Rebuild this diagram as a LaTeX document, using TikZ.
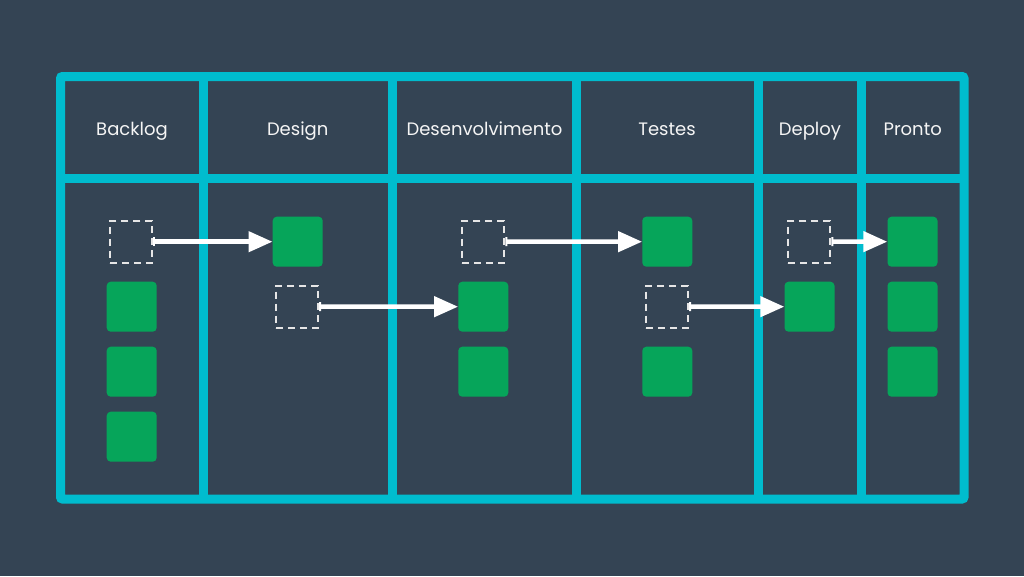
\documentclass[tikz,border=0pt]{standalone}
\usepackage{fontspec}
\setmainfont{Poppins}
\usetikzlibrary{arrows.meta}
\definecolor{bgc}{RGB}{52,68,84}
\definecolor{framec}{RGB}{0,188,206}
\definecolor{cardc}{RGB}{6,165,90}
\definecolor{txtc}{RGB}{245,245,245}
\definecolor{dashc}{RGB}{230,230,230}
\tikzset{
  frame/.style={draw=framec, line width=9pt},
  header/.style={text=txtc, font=\fontsize{18}{20}\selectfont, inner sep=0pt, anchor=base},
  card/.style={fill=cardc, rounded corners=4pt, minimum size=50pt, inner sep=0pt},
  ghost/.style={draw=dashc, line width=2pt, dash pattern=on 7pt off 5pt, minimum size=42pt, inner sep=0pt},
  move/.style={draw=white, line width=4.5pt, {Bar[width=9pt,line width=2pt]}-{Triangle[length=24pt,width=20pt]}}
}
\begin{document}
\begin{tikzpicture}[x=1pt,y=-1pt]
\fill[bgc] (0,0) rectangle (1024,576);
\useasboundingbox (0,0) rectangle (1024,576);
% frame
\draw[frame, rounded corners=2pt] (60.5,76.5) rectangle (964,499);
\draw[frame] (60.5,178.5) -- (964,178.5);
\foreach \x in {203,392.5,576,758.5,861.5}
  \draw[frame] (\x,76.5) -- (\x,499);
% headers
\node[header] (h1) at (132,135.5) {Backlog};
\node[header] (h2) at (297.7,135.5) {Design};
\node[header] (h3) at (484.5,135.5) {Desenvolvimento};
\node[header] (h4) at (667,135.5) {Testes};
\node[header] (h5) at (810,135.5) {Deploy};
\node[header] (h6) at (912.7,135.5) {Pronto};
% backlog
\node[ghost] (g1) at (131.3,241.7) {};
\node[card] (b1) at (131.7,306.7) {};
\node[card] (b2) at (131.7,371.7) {};
\node[card] (b3) at (131.7,436.7) {};
% design
\node[card] (d1) at (297.7,241.7) {};
\node[ghost] (g2) at (297.2,306.5) {};
% desenvolvimento
\node[ghost] (g3) at (483.3,241.5) {};
\node[card] (v1) at (483.3,306.7) {};
\node[card] (v2) at (483.3,371.7) {};
% testes
\node[card] (t1) at (667.3,241.7) {};
\node[ghost] (g4) at (667,306.5) {};
\node[card] (t2) at (667.3,371.7) {};
% deploy
\node[ghost] (g5) at (809.3,241.5) {};
\node[card] (p1) at (809.5,306.7) {};
% pronto
\node[card] (r1) at (912.5,241.7) {};
\node[card] (r2) at (912.5,306.7) {};
\node[card] (r3) at (912.5,371.7) {};
% moves
\draw[move] (g1.east) -- (d1.west);
\draw[move] (g2.east) -- (v1.west);
\draw[move] (g3.east) -- (t1.west);
\draw[move] (g4.east) -- (p1.west);
\draw[move] (g5.east) -- (r1.west);
\end{tikzpicture}
\end{document}
